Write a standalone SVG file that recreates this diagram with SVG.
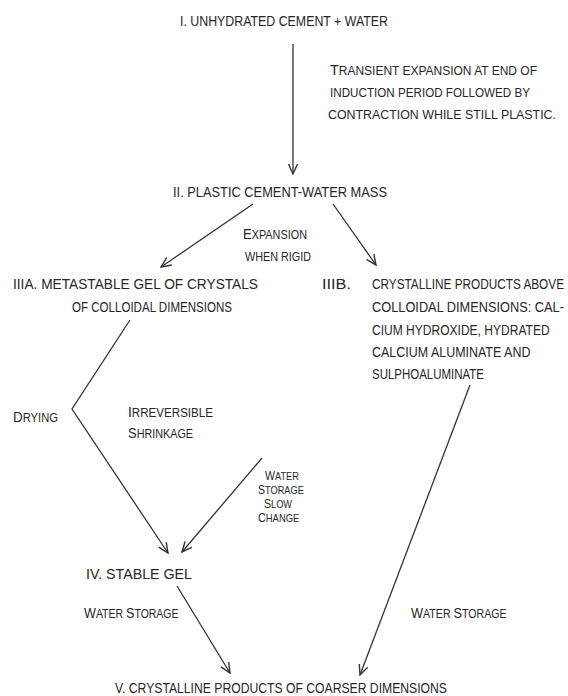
<svg xmlns="http://www.w3.org/2000/svg" width="568" height="696" viewBox="0 0 568 696">
<style>
.n{font-family:"Liberation Sans","DejaVu Sans Condensed",sans-serif;font-size:15px;fill:#262626}
.l{font-family:"Liberation Sans",sans-serif;font-size:12.5px;fill:#262626}
.s{font-family:"Liberation Sans",sans-serif;font-size:10.5px;fill:#262626}
.b{font-size:15px}
.bs{font-size:12px}
.c{stroke:#333;stroke-width:1.3;fill:none}
</style>
<defs>
<marker id="ah" viewBox="0 0 12 12" refX="11" refY="6" markerWidth="12" markerHeight="12" markerUnits="userSpaceOnUse" orient="auto">
<path d="M1,1.5 L11,6 L1,10.5" fill="none" stroke="#333" stroke-width="1.4"/>
</marker>
</defs>
<rect width="568" height="696" fill="#fff"/>
<g id="connectors">
<line class="c" x1="293" y1="44" x2="293" y2="174" marker-end="url(#ah)"/>
<line class="c" x1="253" y1="204" x2="161" y2="267" marker-end="url(#ah)"/>
<line class="c" x1="333" y1="204" x2="376" y2="265" marker-end="url(#ah)"/>
<polyline class="c" points="130,320 72,409 168,553" marker-end="url(#ah)"/>
<line class="c" x1="262" y1="458" x2="182" y2="552" marker-end="url(#ah)"/>
<line class="c" x1="177" y1="586" x2="230" y2="673" marker-end="url(#ah)"/>
<line class="c" x1="470" y1="385" x2="360" y2="675" marker-end="url(#ah)"/>
</g>
<g id="node-I"><text class="n" x="180" y="26" textLength="208" lengthAdjust="spacingAndGlyphs">I.  UNHYDRATED CEMENT + WATER</text></g>
<g id="label-transient">
<text class="l" x="330" y="75" textLength="207" lengthAdjust="spacingAndGlyphs"><tspan class="b">T</tspan>RANSIENT EXPANSION AT END OF</text>
<text class="l" x="330" y="97" textLength="200" lengthAdjust="spacingAndGlyphs">INDUCTION PERIOD FOLLOWED BY</text>
<text class="l" x="328" y="119" textLength="228" lengthAdjust="spacingAndGlyphs">CONTRACTION WHILE STILL PLASTIC.</text>
</g>
<g id="node-II"><text class="n" x="173" y="197" textLength="214" lengthAdjust="spacingAndGlyphs">II.  PLASTIC CEMENT-WATER MASS</text></g>
<g id="label-expansion">
<text class="l" x="243" y="239" textLength="64" lengthAdjust="spacingAndGlyphs"><tspan class="b">E</tspan>XPANSION</text>
<text class="l" x="245" y="261" textLength="66" lengthAdjust="spacingAndGlyphs">WHEN RIGID</text>
</g>
<g id="node-IIIA">
<text class="n" x="13" y="289" textLength="245" lengthAdjust="spacingAndGlyphs">IIIA.  METASTABLE GEL OF CRYSTALS</text>
<text class="n" x="72" y="312" textLength="160" lengthAdjust="spacingAndGlyphs">OF COLLOIDAL DIMENSIONS</text>
</g>
<g id="node-IIIB">
<text class="n" x="322" y="289" textLength="29" lengthAdjust="spacingAndGlyphs">IIIB.</text>
<g transform="translate(372,0) scale(0.8,1)">
<text class="n" x="0" y="289" textLength="240" lengthAdjust="spacingAndGlyphs">CRYSTALLINE PRODUCTS ABOVE</text>
<text class="n" x="0" y="312" textLength="240" lengthAdjust="spacingAndGlyphs">COLLOIDAL DIMENSIONS:  CAL-</text>
<text class="n" x="0" y="335" textLength="222" lengthAdjust="spacingAndGlyphs">CIUM HYDROXIDE, HYDRATED</text>
<text class="n" x="0" y="357" textLength="198" lengthAdjust="spacingAndGlyphs">CALCIUM ALUMINATE AND</text>
<text class="n" x="0" y="379" textLength="140" lengthAdjust="spacingAndGlyphs">SULPHOALUMINATE</text>
</g>
</g>
<g id="label-drying"><text class="l" x="13" y="422" textLength="45" lengthAdjust="spacingAndGlyphs"><tspan class="b">D</tspan>RYING</text></g>
<g id="label-irreversible">
<text class="l" x="128" y="417" textLength="85" lengthAdjust="spacingAndGlyphs"><tspan class="b">I</tspan>RREVERSIBLE</text>
<text class="l" x="128" y="438" textLength="65" lengthAdjust="spacingAndGlyphs"><tspan class="b">S</tspan>HRINKAGE</text>
</g>
<g id="label-water-storage-slow">
<text class="s" transform="translate(265,480) scale(0.88,1)"><tspan class="bs">W</tspan>ATER</text>
<text class="s" transform="translate(258,494) scale(0.88,1)"><tspan class="bs">S</tspan>TORAGE</text>
<text class="s" transform="translate(264,508) scale(0.88,1)"><tspan class="bs">S</tspan>LOW</text>
<text class="s" transform="translate(258,522) scale(0.9,1)"><tspan class="bs">C</tspan>HANGE</text>
</g>
<g id="node-IV"><text class="n" x="86" y="579" textLength="106" lengthAdjust="spacingAndGlyphs">IV.  STABLE GEL</text></g>
<g id="label-water-storage-left">
<text class="l" transform="translate(84,618) scale(0.84,1)"><tspan class="b">W</tspan>ATER <tspan class="b">S</tspan>TORAGE</text>
</g>
<g id="label-water-storage-right">
<text class="l" transform="translate(411,618) scale(0.85,1)"><tspan class="b">W</tspan>ATER <tspan class="b">S</tspan>TORAGE</text>
</g>
<g id="node-V"><text class="n" x="115" y="693" textLength="332" lengthAdjust="spacingAndGlyphs">V.  CRYSTALLINE PRODUCTS OF COARSER DIMENSIONS</text></g>
</svg>
